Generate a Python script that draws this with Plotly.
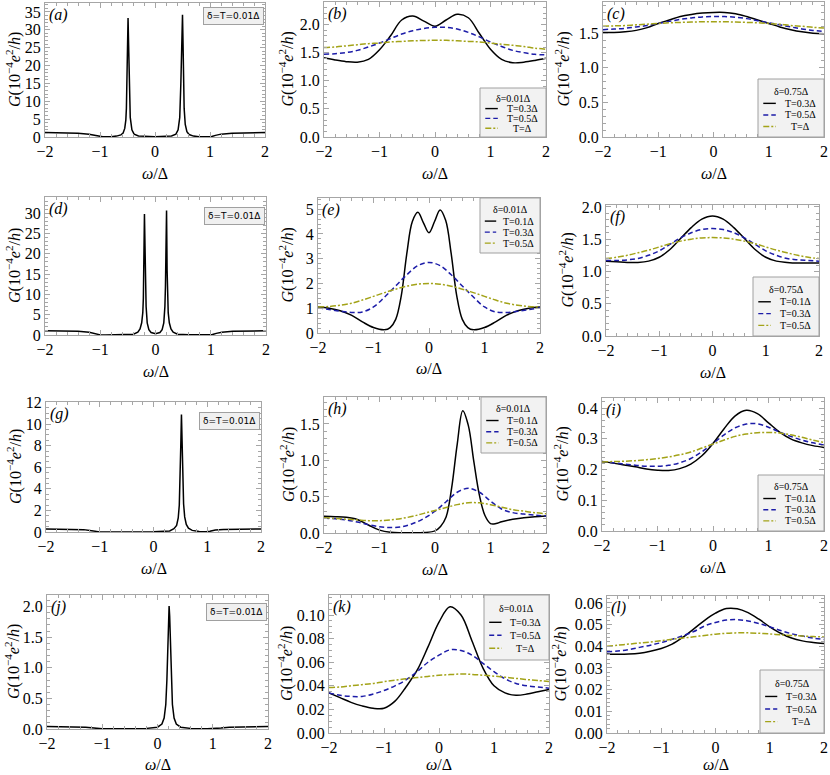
import plotly.graph_objects as go

W, H = 830, 775
SERIF = "Liberation Serif, Times New Roman, serif"
FRAME = "#a6a6a6"

# common omega grid (omega / Delta)
omega = [-2.0, -1.8, -1.6, -1.4, -1.2, -1.0, -0.8, -0.6, -0.4, -0.2, 0.0,
         0.2, 0.4, 0.6, 0.8, 1.0, 1.2, 1.4, 1.6, 1.8, 2.0]

# column 1: delta = T = 0.01 Delta, sharp resonances
a_x = [-2.0, -1.7, -1.4, -1.2, -1.1, -1.03, -1.0, -0.95, -0.8, -0.7,
       -0.62, -0.58, -0.55, -0.53, -0.52, -0.51, -0.5, -0.49, -0.48, -0.47,
       -0.45, -0.42, -0.38, -0.3, 0.0, 0.3, 0.38, 0.42, 0.45, 0.47,
       0.48, 0.49, 0.5, 0.51, 0.52, 0.53, 0.55, 0.58, 0.62, 0.7,
       0.8, 0.95, 1.0, 1.03, 1.1, 1.2, 1.4, 1.7, 2.0]
a_G = [1.25, 1.2, 1.05, 0.8, 0.45, 0.12, 0.03, 0.05, 0.1, 0.25,
       0.6, 1.1, 2.4, 4.8, 8.0, 14.0, 24.0, 33.3, 26.0, 15.0,
       5.5, 2.0, 0.8, 0.3, 0.1, 0.3, 0.8, 2.0, 5.5, 15.0,
       24.0, 31.0, 34.2, 26.0, 14.0, 8.0, 3.5, 1.5, 0.7, 0.25,
       0.1, 0.05, 0.03, 0.12, 0.45, 0.8, 1.05, 1.2, 1.25]

d_x = [-2.0, -1.7, -1.4, -1.2, -1.1, -1.03, -1.0, -0.9, -0.6, -0.4,
       -0.32, -0.28, -0.25, -0.23, -0.22, -0.21, -0.2, -0.19, -0.18, -0.17,
       -0.15, -0.12, -0.08, 0.0, 0.08, 0.12, 0.15, 0.17, 0.18, 0.19, 0.2,
       0.21, 0.22, 0.23, 0.25, 0.28, 0.32, 0.4, 0.6, 0.9, 1.0, 1.03, 1.1,
       1.2, 1.4, 1.7, 2.0]
d_G = [1.05, 1.0, 0.9, 0.7, 0.4, 0.1, 0.03, 0.02, 0.05, 0.2,
       0.7, 1.5, 3.0, 5.5, 9.0, 16.0, 29.8, 22.0, 12.0, 7.0,
       3.0, 1.3, 0.6, 0.3, 0.6, 1.3, 3.0, 7.0, 12.0, 22.0, 30.7,
       16.0, 9.0, 5.5, 3.0, 1.5, 0.7, 0.2, 0.05, 0.02, 0.03, 0.1, 0.4,
       0.7, 0.9, 1.0, 1.05]

g_x = [-2.0, -1.6, -1.3, -1.15, -1.05, -1.0, -0.5, 0.0, 0.3, 0.38,
       0.43, 0.46, 0.48, 0.5, 0.51, 0.52, 0.53, 0.54, 0.56, 0.58,
       0.61, 0.65, 0.72, 0.85, 0.98, 1.05, 1.15, 1.3, 1.6, 2.0]
g_G = [0.28, 0.27, 0.22, 0.12, 0.03, 0.01, 0.01, 0.02, 0.1, 0.3,
       0.6, 1.3, 2.5, 5.5, 8.5, 10.9, 8.5, 5.5, 2.6, 1.4,
       0.7, 0.35, 0.15, 0.05, 0.02, 0.08, 0.18, 0.24, 0.27, 0.28]

j_x = [-2.0, -1.6, -1.3, -1.15, -1.05, -1.0, -0.6, -0.2, 0.0, 0.08,
       0.12, 0.15, 0.17, 0.19, 0.2, 0.21, 0.22, 0.23, 0.25, 0.27,
       0.3, 0.34, 0.42, 0.6, 0.9, 1.0, 1.05, 1.15, 1.3, 1.6, 2.0]
j_G = [0.04, 0.038, 0.03, 0.015, 0.005, 0.003, 0.003, 0.01, 0.03, 0.08,
       0.18, 0.4, 0.8, 1.5, 1.85, 2.01, 1.85, 1.5, 0.8, 0.4,
       0.18, 0.08, 0.03, 0.01, 0.003, 0.003, 0.005, 0.015, 0.03, 0.038, 0.04]

# (b) delta = 0.01
b_T03 = [1.41, 1.37, 1.34, 1.33, 1.38, 1.55, 1.80, 2.08, 2.15, 2.06, 1.97,
         2.08, 2.18, 2.12, 1.84, 1.56, 1.38, 1.32, 1.33, 1.36, 1.40]
b_T05 = [1.47, 1.48, 1.50, 1.54, 1.60, 1.67, 1.75, 1.83, 1.89, 1.93, 1.95,
         1.95, 1.92, 1.86, 1.78, 1.69, 1.61, 1.54, 1.50, 1.47, 1.46]
b_T10 = [1.59, 1.60, 1.62, 1.64, 1.66, 1.67, 1.69, 1.70, 1.71, 1.715, 1.72,
         1.72, 1.71, 1.70, 1.69, 1.67, 1.65, 1.63, 1.61, 1.58, 1.56]

# (c) delta = 0.75
c_T03 = [1.51, 1.51, 1.52, 1.54, 1.58, 1.64, 1.69, 1.74, 1.77, 1.79, 1.80,
         1.80, 1.78, 1.74, 1.69, 1.64, 1.59, 1.55, 1.52, 1.50, 1.49]
c_T05 = [1.55, 1.56, 1.57, 1.59, 1.61, 1.64, 1.67, 1.70, 1.72, 1.735, 1.74,
         1.74, 1.73, 1.71, 1.68, 1.65, 1.62, 1.59, 1.56, 1.54, 1.525]
c_T10 = [1.60, 1.605, 1.61, 1.62, 1.63, 1.64, 1.65, 1.655, 1.66, 1.665, 1.665,
         1.665, 1.66, 1.655, 1.65, 1.64, 1.63, 1.61, 1.60, 1.585, 1.575]

# (e) delta = 0.01
e_x01 = [-2.0, -1.8, -1.6, -1.4, -1.2, -1.0, -0.8, -0.7, -0.6, -0.5,
         -0.4, -0.3, -0.2, -0.1, 0.0, 0.1, 0.2, 0.3, 0.4, 0.5,
         0.6, 0.7, 0.8, 1.0, 1.2, 1.4, 1.6, 1.8, 2.0]
e_T01 = [1.05, 1.0, 0.9, 0.72, 0.45, 0.22, 0.13, 0.22, 0.55, 1.5,
         3.2, 4.5, 4.87, 4.45, 4.05, 4.5, 4.97, 4.55, 3.2, 1.5,
         0.55, 0.22, 0.13, 0.22, 0.45, 0.72, 0.9, 1.0, 1.05]
e_T03 = [1.02, 0.95, 0.88, 0.83, 0.85, 1.05, 1.45, 1.9, 2.35, 2.72, 2.85,
         2.72, 2.35, 1.9, 1.45, 1.05, 0.85, 0.83, 0.88, 0.95, 1.02]
e_T05 = [1.05, 1.07, 1.12, 1.2, 1.33, 1.48, 1.63, 1.77, 1.89, 1.97, 2.0,
         1.97, 1.89, 1.77, 1.63, 1.48, 1.33, 1.2, 1.12, 1.07, 1.05]

# (f) delta = 0.75
f_T01 = [1.16, 1.15, 1.14, 1.14, 1.16, 1.22, 1.34, 1.51, 1.68, 1.81, 1.86,
         1.81, 1.68, 1.51, 1.34, 1.22, 1.16, 1.14, 1.13, 1.13, 1.13]
f_T03 = [1.17, 1.17, 1.18, 1.2, 1.25, 1.32, 1.42, 1.52, 1.6, 1.65, 1.665,
         1.65, 1.6, 1.52, 1.42, 1.32, 1.25, 1.2, 1.18, 1.17, 1.16]
f_T05 = [1.2, 1.22, 1.25, 1.29, 1.33, 1.38, 1.43, 1.47, 1.5, 1.52, 1.525,
         1.52, 1.5, 1.47, 1.43, 1.38, 1.33, 1.29, 1.25, 1.22, 1.2]

# (h) delta = 0.01
h_x01 = [-2.0, -1.8, -1.6, -1.4, -1.2, -1.0, -0.8, -0.6, -0.4, -0.2,
         0.0, 0.1, 0.2, 0.3, 0.4, 0.5, 0.6, 0.7, 0.8, 0.9,
         1.0, 1.1, 1.2, 1.4, 1.6, 1.8, 2.0]
h_T01 = [0.23, 0.225, 0.215, 0.185, 0.11, 0.04, 0.01, 0.003, 0.002, 0.006,
         0.03, 0.09, 0.22, 0.62, 1.22, 1.68, 1.48, 0.98, 0.52, 0.24,
         0.13, 0.13, 0.155, 0.19, 0.21, 0.225, 0.235]
h_T03 = [0.205, 0.195, 0.18, 0.15, 0.115, 0.085, 0.075, 0.085, 0.13, 0.2, 0.3,
         0.43, 0.56, 0.615, 0.56, 0.44, 0.33, 0.28, 0.26, 0.245, 0.235]
h_T05 = [0.21, 0.2, 0.19, 0.18, 0.17, 0.17, 0.18, 0.2, 0.23, 0.27, 0.31,
         0.35, 0.39, 0.415, 0.415, 0.39, 0.355, 0.32, 0.3, 0.28, 0.265]

# (i) delta = 0.75
i_T01 = [0.226, 0.221, 0.215, 0.209, 0.202, 0.198, 0.197, 0.203, 0.218, 0.245, 0.285,
         0.333, 0.375, 0.393, 0.382, 0.352, 0.322, 0.3, 0.287, 0.278, 0.272]
i_T03 = [0.226, 0.222, 0.218, 0.214, 0.211, 0.211, 0.214, 0.222, 0.236, 0.258, 0.285,
         0.313, 0.336, 0.348, 0.349, 0.338, 0.322, 0.308, 0.296, 0.287, 0.28]
i_T05 = [0.225, 0.226, 0.227, 0.229, 0.232, 0.236, 0.241, 0.248, 0.257, 0.27, 0.283,
         0.296, 0.308, 0.316, 0.32, 0.321, 0.319, 0.313, 0.305, 0.296, 0.288]

# (k) delta = 0.01
k_T03 = [0.034, 0.030, 0.026, 0.023, 0.021, 0.021, 0.027, 0.039, 0.053, 0.073, 0.094,
         0.107, 0.1, 0.078, 0.055, 0.04, 0.034, 0.032, 0.033, 0.035, 0.037]
k_T05 = [0.034, 0.032, 0.031, 0.031, 0.033, 0.036, 0.040, 0.045, 0.052, 0.06, 0.066,
         0.0705, 0.07, 0.066, 0.059, 0.052, 0.046, 0.042, 0.04, 0.039, 0.038]
k_T10 = [0.0385, 0.039, 0.040, 0.041, 0.042, 0.0435, 0.0447, 0.046, 0.047, 0.048, 0.049,
         0.0495, 0.05, 0.0497, 0.049, 0.0482, 0.0473, 0.0463, 0.0453, 0.0445, 0.0437]

# (l) delta = 0.75
l_T03 = [0.0365, 0.0363, 0.0364, 0.0368, 0.0377, 0.039, 0.041, 0.0442, 0.048, 0.052, 0.0553,
         0.0574, 0.0573, 0.0555, 0.0525, 0.049, 0.046, 0.0438, 0.0425, 0.0418, 0.0413]
l_T05 = [0.0375, 0.0378, 0.0385, 0.0395, 0.0405, 0.0417, 0.0432, 0.0449, 0.0468, 0.0494, 0.051,
         0.0521, 0.0523, 0.0517, 0.0505, 0.049, 0.0473, 0.0458, 0.0447, 0.0438, 0.0431]
l_T10 = [0.0400, 0.0405, 0.041, 0.0415, 0.042, 0.0426, 0.0432, 0.0438, 0.0444, 0.045, 0.0456,
         0.046, 0.0462, 0.0462, 0.046, 0.0457, 0.0453, 0.045, 0.0447, 0.0445, 0.0443]

labels_hi = ["T=0.3Δ", "T=0.5Δ", "T=Δ"]
labels_lo = ["T=0.1Δ", "T=0.3Δ", "T=0.5Δ"]
head_small = "δ=0.01Δ"
head_large = "δ=0.75Δ"
note_text = "δ=T=0.01Δ"

STYLES = [
    dict(color="#000000", dash="solid"),
    dict(color="#1c1ca8", dash="5px,3px"),
    dict(color="#a3a318", dash="6px,2px,2px,2px"),
]

# panel layout: box = (left, top, right, bottom) in window px
panels = [
    dict(tag="a", box=(45, 3, 265, 137), ymax=37.5, dt=5, mn=1, fmt="d", off=32,
         curves=[(a_x, a_G)], note=(264, 7)),
    dict(tag="b", box=(324, 2, 546, 137), ymax=2.4, dt=0.5, mn=0.1, fmt=".1f", off=37,
         curves=[(omega, b_T03), (omega, b_T05), (omega, b_T10)],
         legend=((480, 88, 546, 137), head_small, labels_hi)),
    dict(tag="c", box=(603, 2, 824, 137), ymax=1.95, dt=0.5, mn=0.1, fmt=".1f", off=40,
         curves=[(omega, c_T03), (omega, c_T05), (omega, c_T10)],
         legend=((758, 79, 824, 137), head_large, labels_hi)),
    dict(tag="d", box=(45, 197, 266, 335), ymax=34, dt=5, mn=1, fmt="d", off=32,
         curves=[(d_x, d_G)], note=(265, 207)),
    dict(tag="e", box=(318, 198, 540, 333), ymax=5.45, dt=1, mn=0.2, fmt="d", off=31,
         curves=[(e_x01, e_T01), (omega, e_T03), (omega, e_T05)],
         legend=((480, 198, 540, 253), head_small, labels_lo)),
    dict(tag="f", box=(606, 205, 819, 336), ymax=2.03, dt=0.5, mn=0.1, fmt=".1f", off=39,
         curves=[(omega, f_T01), (omega, f_T03), (omega, f_T05)],
         legend=((753, 277, 819, 336), head_large, labels_lo)),
    dict(tag="g", box=(46, 402, 261, 532), ymax=12.05, dt=2, mn=0.5, fmt="d", off=31,
         curves=[(g_x, g_G)], note=(260, 412)),
    dict(tag="h", box=(324, 397, 546, 533), ymax=1.87, dt=0.5, mn=0.1, fmt=".1f", off=37,
         curves=[(h_x01, h_T01), (omega, h_T03), (omega, h_T05)],
         legend=((481, 397, 546, 453), head_small, labels_lo)),
    dict(tag="i", box=(602, 398, 824, 531), ymax=0.433, dt=0.1, mn=0.02, fmt=".1f", off=40,
         curves=[(omega, i_T01), (omega, i_T03), (omega, i_T05)],
         legend=((758, 475, 824, 531), head_large, labels_lo)),
    dict(tag="j", box=(47, 595, 268, 729), ymax=2.19, dt=0.5, mn=0.1, fmt=".1f", off=35,
         curves=[(j_x, j_G)], note=(267, 603)),
    dict(tag="k", box=(329, 595, 549, 733), ymax=0.117, dt=0.02, mn=0.005, fmt=".2f", off=44,
         curves=[(omega, k_T03), (omega, k_T05), (omega, k_T10)],
         legend=((484, 595, 549, 660), head_small, labels_hi)),
    dict(tag="l", box=(607, 596, 824, 733), ymax=0.0632, dt=0.01, mn=0.002, fmt=".2f", off=47,
         curves=[(omega, l_T03), (omega, l_T05), (omega, l_T10)],
         legend=((760, 670, 824, 733), head_large, labels_hi)),
]


def px(x):
    return min(max(x / W, 0.0), 1.0)


def py(y):
    return min(max(1 - y / H, 0.0), 1.0)


fig = go.Figure()
layout = dict(width=W, height=H, margin=dict(l=0, r=0, t=0, b=0),
              paper_bgcolor="white", plot_bgcolor="white", showlegend=False)
shapes, annos = [], []

axis_common = dict(showline=True, mirror="allticks", linecolor=FRAME, linewidth=1,
                   ticks="inside", ticklen=5, tickwidth=1, tickcolor=FRAME,
                   showgrid=False, zeroline=False, automargin=False,
                   tickfont=dict(family=SERIF, size=16, color="#000"))

ytitle = "<i>G</i>(10<sup>−4</sup><i>e</i><sup>2</sup>/<i>h</i>)"

for n, p in enumerate(panels):
    s = "" if n == 0 else str(n + 1)
    L, T, R, B = p["box"]
    layout["xaxis" + s] = dict(axis_common, domain=[px(L), px(R)], range=[-2, 2],
                               anchor="y" + s, tickmode="linear", tick0=-2, dtick=1,
                               minor=dict(ticks="inside", ticklen=3, tickcolor=FRAME,
                                          dtick=0.2, showgrid=False))
    layout["yaxis" + s] = dict(axis_common, domain=[py(B), py(T)], range=[0, p["ymax"]],
                               anchor="x" + s, tickmode="linear", tick0=0, dtick=p["dt"],
                               tickformat=p["fmt"],
                               minor=dict(ticks="inside", ticklen=3, tickcolor=FRAME,
                                          dtick=p["mn"], showgrid=False))
    single = len(p["curves"]) == 1
    for k, (xs, ys) in enumerate(p["curves"]):
        fig.add_trace(go.Scatter(
            x=xs, y=ys, xaxis="x" + s, yaxis="y" + s, mode="lines",
            line=dict(width=1.5,
                      shape="linear" if single else "spline",
                      **STYLES[k])))

    # axis titles
    annos.append(dict(text=ytitle, x=px(L - p["off"]), y=py((T + B) / 2),
                      xref="paper", yref="paper", textangle=-90, showarrow=False,
                      xanchor="center", yanchor="middle",
                      font=dict(family=SERIF, size=16, color="#000")))
    annos.append(dict(text="<i>ω</i>/Δ", x=px((L + R) / 2), y=py(min(B + 36, 764)),
                      xref="paper", yref="paper", showarrow=False,
                      xanchor="center", yanchor="middle",
                      font=dict(family=SERIF, size=16, color="#000")))
    # panel tag
    annos.append(dict(text="<i>(%s)</i>" % p["tag"], x=px(L + 2), y=py(T + 1),
                      xref="paper", yref="paper", showarrow=False,
                      xanchor="left", yanchor="top",
                      font=dict(family=SERIF, size=16, color="#000")))

    if "note" in p:
        nx, ny = p["note"]
        annos.append(dict(text=note_text, x=px(nx), y=py(ny), xref="paper", yref="paper",
                          showarrow=False, xanchor="right", yanchor="top",
                          bgcolor="#f0f0f0", bordercolor="#a0a0a0", borderwidth=1,
                          borderpad=3, font=dict(family="DejaVu Sans", size=9, color="#000")))

    if "legend" in p:
        (bl, bt, br, bb), head, labs = p["legend"]
        w, h = br - bl, bb - bt
        shapes.append(dict(type="rect", xref="paper", yref="paper",
                           x0=px(bl), x1=px(br), y0=py(bb), y1=py(bt),
                           fillcolor="#f2f2f2", line=dict(color="#a0a0a0", width=1)))
        annos.append(dict(text=head, x=px(bl + w / 2), y=py(bt + 0.21 * h),
                          xref="paper", yref="paper", showarrow=False,
                          xanchor="center", yanchor="middle",
                          font=dict(family=SERIF, size=10, color="#000")))
        for k, lab in enumerate(labs):
            yy = py(bt + (0.42 + 0.2 * k) * h)
            shapes.append(dict(type="line", xref="paper", yref="paper",
                               x0=px(bl + 0.08 * w), x1=px(bl + 0.27 * w), y0=yy, y1=yy,
                               line=dict(width=1.4, **STYLES[k])))
            annos.append(dict(text=lab, x=px(bl + 0.645 * w), y=yy,
                              xref="paper", yref="paper", showarrow=False,
                              xanchor="center", yanchor="middle",
                              font=dict(family=SERIF, size=10, color="#000")))

layout["shapes"] = shapes
layout["annotations"] = annos
fig.update_layout(layout)

# the page body has a default 8px margin; drop it so the figure fills the window
fig.write_html("out.html", config={"displayModeBar": False},
               post_script="document.body.style.margin = '0';")
